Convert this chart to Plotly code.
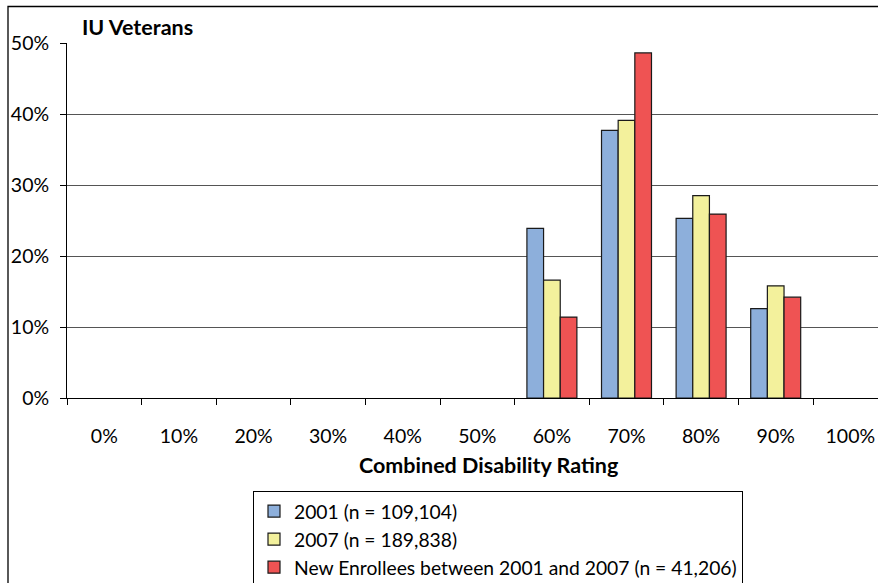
import plotly.graph_objects as go

# Combined disability rating categories and share of veterans per group
ratings = ["0%", "10%", "20%", "30%", "40%", "50%", "60%", "70%", "80%", "90%", "100%"]
share_2001 = [None, None, None, None, None, None, 0.239, 0.377, 0.253, 0.126, None]
share_2007 = [None, None, None, None, None, None, 0.166, 0.391, 0.285, 0.158, None]
share_new = [None, None, None, None, None, None, 0.114, 0.486, 0.259, 0.142, None]

series_names = [
    "2001 (n = 109,104)",
    "2007 (n = 189,838)",
    "New Enrollees between 2001 and 2007 (n = 41,206)",
]
series_colors = ["#8DAFDB", "#F3F19C", "#EF5353"]

W, H = 878, 583
ML, MR, MT, MB = 67, 0, 43, 185
plot_w = W - ML - MR
plot_h = H - MT - MB
cat_w = 74.6  # pixel width of one category slot


def px_x(px):
    return (px - ML) / plot_w


def px_y(py):
    return (H - MB - py) / plot_h


FONT = "Lato, 'Open Sans', sans-serif"

fig = go.Figure()
for name, vals, col in zip(series_names, [share_2001, share_2007, share_new], series_colors):
    fig.add_trace(go.Bar(
        x=ratings, y=vals, name=name,
        marker=dict(color=col, line=dict(color="#1a1a1a", width=1.2)),
    ))

fig.update_layout(
    width=W, height=H,
    margin=dict(l=ML, r=MR, t=MT, b=MB, pad=0, autoexpand=False),
    paper_bgcolor="white", plot_bgcolor="white",
    barmode="group", bargap=0.33, bargroupgap=0,
    font=dict(family=FONT, size=19, color="black"),
    showlegend=True,
    legend=dict(
        xref="container", yref="container",
        x=253 / W, y=(H - 491) / H, xanchor="left", yanchor="top",
        bordercolor="black", borderwidth=1, bgcolor="white",
        font=dict(family=FONT, size=19.3, color="black"),
        traceorder="normal", tracegroupgap=0,
    ),
    xaxis=dict(
        type="category", range=[-0.5, -0.5 + plot_w / cat_w],
        showline=True, linecolor="black", linewidth=1,
        ticks="outside", tickson="boundaries", ticklen=6, tickcolor="black",
        showgrid=False, fixedrange=True, ticklabelstandoff=21, automargin=False,
        tickfont=dict(family=FONT, size=19.5, color="black"),
    ),
    yaxis=dict(
        range=[0, 0.5], tickvals=[0, 0.1, 0.2, 0.3, 0.4, 0.5], tickformat=".0%",
        showline=True, linecolor="black", linewidth=1,
        ticks="outside", ticklen=6, tickcolor="black",
        showgrid=True, gridcolor="#555555", gridwidth=1,
        zeroline=False, ticklabelstandoff=7, automargin=False,
        tickfont=dict(family=FONT, size=19.5, color="black"),
    ),
    annotations=[
        dict(text="<b>IU Veterans</b>", x=px_x(80), y=px_y(27), xref="paper", yref="paper",
             xanchor="left", yanchor="middle", showarrow=False,
             font=dict(family=FONT, size=21.5, color="black")),
        dict(text="<b>Combined Disability Rating</b>", x=px_x(488), y=px_y(465),
             xref="paper", yref="paper", xanchor="center", yanchor="middle",
             showarrow=False, font=dict(family=FONT, size=21.5, color="black")),
    ],
    shapes=[
        dict(type="rect", xref="paper", yref="paper",
             x0=px_x(8), x1=px_x(900), y0=px_y(600), y1=px_y(6.5),
             line=dict(color="black", width=1.3), fillcolor="rgba(0,0,0,0)", layer="below"),
    ],
)

fig.write_html("out.html")
